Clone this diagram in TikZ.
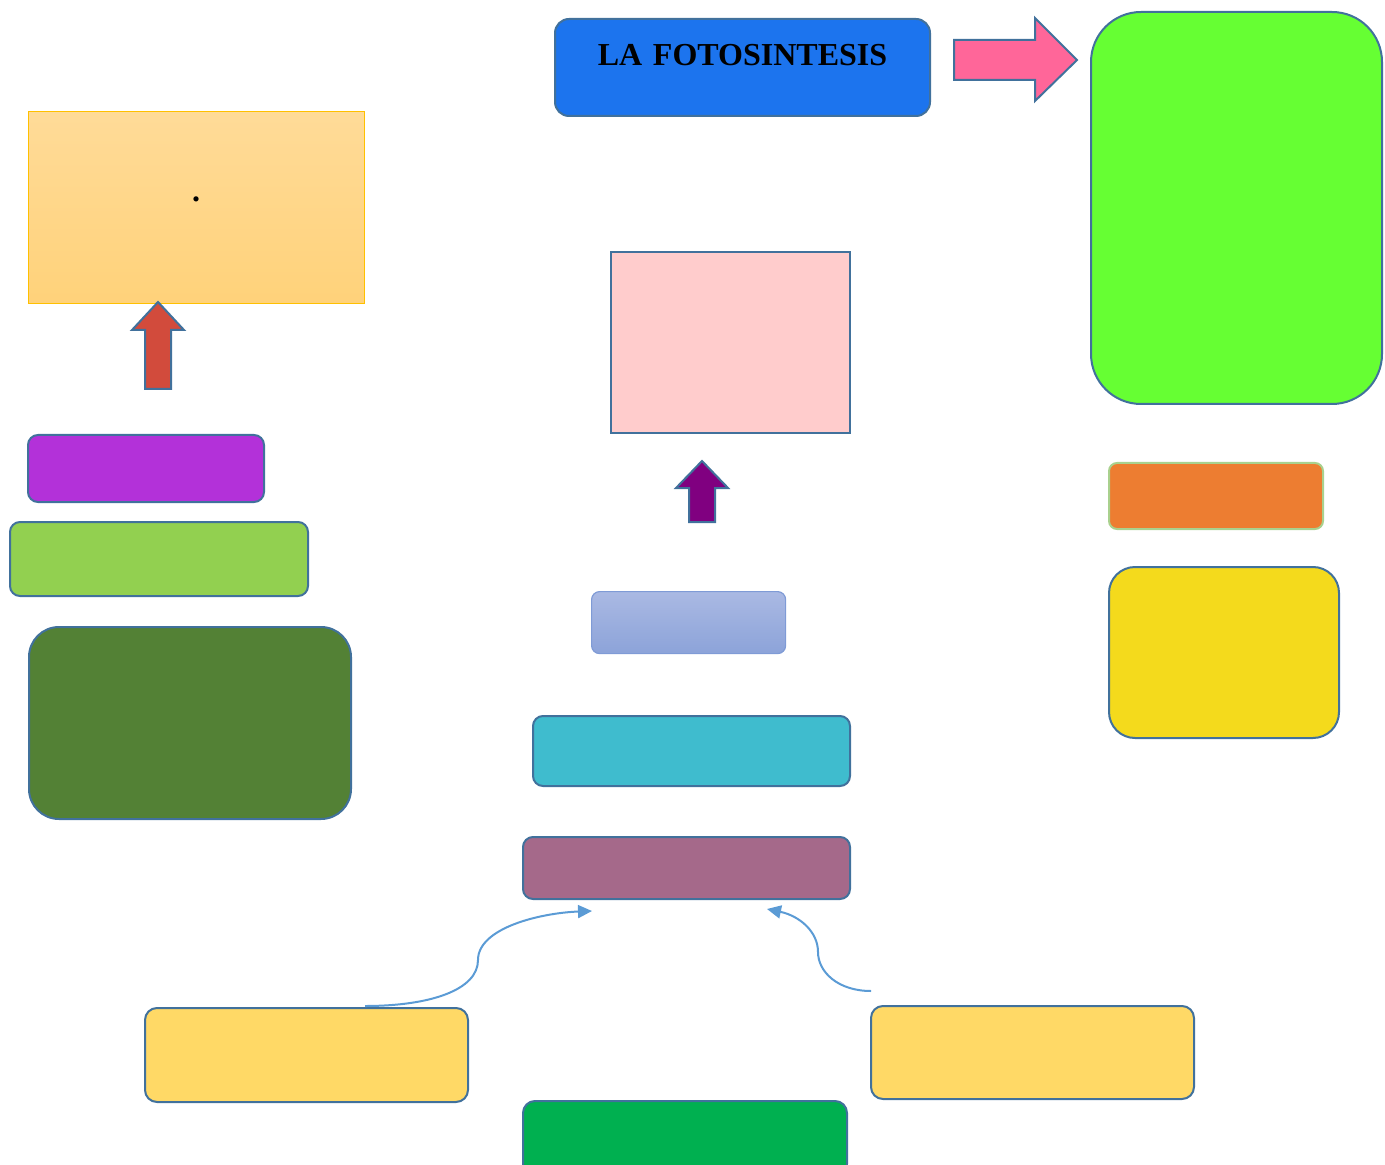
\documentclass[tikz,border=0pt]{standalone}
\usepackage{fontspec}
\setmainfont{Liberation Serif}
\usetikzlibrary{arrows.meta}

\definecolor{edgeblue}{HTML}{41719C}
\definecolor{titleblue}{HTML}{1C74EE}
\definecolor{arrowpink}{HTML}{FF6699}
\definecolor{limegreen}{HTML}{66FF33}
\definecolor{sandtop}{HTML}{FFDB98}
\definecolor{sandbot}{HTML}{FFD27A}
\definecolor{sandedge}{HTML}{FFC000}
\definecolor{brickred}{HTML}{D24B3C}
\definecolor{blushpink}{HTML}{FFCCCC}
\definecolor{plum}{HTML}{800080}
\definecolor{violet}{HTML}{B331D9}
\definecolor{leafgreen}{HTML}{92D050}
\definecolor{forest}{HTML}{538135}
\definecolor{periwinktop}{HTML}{AAB9E3}
\definecolor{periwinkbot}{HTML}{8CA3D9}
\definecolor{periwinkedge}{HTML}{7F9BD6}
\definecolor{teal}{HTML}{3FBCCE}
\definecolor{mauve}{HTML}{A5698A}
\definecolor{tangerine}{HTML}{ED7D31}
\definecolor{paleleaf}{HTML}{A9D18E}
\definecolor{sunyellow}{HTML}{F4DA1C}
\definecolor{butter}{HTML}{FFD966}
\definecolor{emerald}{HTML}{00B050}
\definecolor{linkblue}{HTML}{5B9BD5}

\tikzset{
  card/.style={draw=edgeblue, line width=1pt, anchor=north west, inner sep=0pt},
  blockarrow/.style={draw=edgeblue, line width=1pt, line join=miter},
  link/.style={draw=linkblue, line width=1pt,
    -{Triangle[length=7pt,width=6.5pt]}},
}

\begin{document}
\begin{tikzpicture}[x=0.5pt, y=-0.5pt]
\useasboundingbox (0,0) rectangle (1385,1165);

% title
\node[card, fill=titleblue, rounded corners=7pt, minimum width=187.5pt,
      text width=187.5pt, align=center, text height=23.5pt, text depth=25pt,
      font=\fontsize{16}{19}\selectfont\bfseries]
      (title) at (554,18) {LA FOTOSINTESIS};

% pink block arrow towards the green panel
\path[blockarrow, fill=arrowpink]
  (954,40) -- (1035,40) -- (1035,18) -- (1077,60) -- (1035,101) -- (1035,80) -- (954,80) -- cycle;

% right column
\node[card, fill=limegreen, rounded corners=25pt, minimum width=145.5pt, minimum height=196pt]
  (panel) at (1090,11) {};
\node[card, draw=paleleaf, fill=tangerine, rounded corners=4pt, minimum width=107pt, minimum height=33pt]
  (orange) at (1108,462) {};
\node[card, fill=sunyellow, rounded corners=13pt, minimum width=115pt, minimum height=85.5pt]
  (yellow) at (1108,566) {};

% left column
\node[card, draw=sandedge, line width=0.6pt, top color=sandtop, bottom color=sandbot,
      minimum width=168pt, minimum height=96pt]
  (sand) at (28,111) {};
\node[inner sep=0pt, font=\fontsize{16}{16}\selectfont\bfseries] (dot) at (196,199) {.};
\path[blockarrow, fill=brickred]
  (145,389) -- (145,330) -- (132,330) -- (158,302) -- (184,330) -- (171,330) -- (171,389) -- cycle;
\node[card, fill=violet, rounded corners=5pt, minimum width=118pt, minimum height=33.5pt]
  (violetbox) at (27,434) {};
\node[card, fill=leafgreen, rounded corners=5pt, minimum width=149pt, minimum height=37pt]
  (leafbox) at (9,521) {};
\node[card, fill=forest, rounded corners=15pt, minimum width=161pt, minimum height=96pt]
  (forestbox) at (28,626) {};

% middle column
\node[card, fill=blushpink, minimum width=119.5pt, minimum height=90.5pt]
  (blush) at (610,251) {};
\path[blockarrow, fill=plum]
  (689,522) -- (689,488) -- (676,488) -- (702,461) -- (728,488) -- (715,488) -- (715,522) -- cycle;
\node[card, draw=periwinkedge, line width=0.6pt, top color=periwinktop, bottom color=periwinkbot,
      rounded corners=4pt, minimum width=97pt, minimum height=31pt]
  (periwink) at (591,591) {};
\node[card, fill=teal, rounded corners=5pt, minimum width=158.5pt, minimum height=35pt]
  (tealbox) at (532,715) {};
\node[card, fill=mauve, rounded corners=5pt, minimum width=163.5pt, minimum height=31pt]
  (mauvebox) at (522,836) {};

% bottom row
\node[card, fill=butter, rounded corners=6pt, minimum width=161.5pt, minimum height=47pt]
  (leftbutter) at (144,1007) {};
\node[card, fill=butter, rounded corners=6pt, minimum width=161.5pt, minimum height=46.5pt]
  (rightbutter) at (870,1005) {};
\node[card, fill=emerald, rounded corners=6pt, minimum width=162pt, minimum height=37.5pt]
  (emeraldbox) at (522,1100) {};

% curved links into the mauve box
\coordinate (lstart) at (365,1006);
\coordinate (lbend) at (478,960);
\coordinate (ltip) at (592,911);
\coordinate (rstart) at (871,991);
\coordinate (rbend) at (818,952);
\coordinate (rtip) at (767,909);
\draw[link] (lstart) .. controls (430,1006) and (478,990) .. (lbend)
  .. controls (478,928) and (540,913) .. (ltip);
\draw[link] (rstart) .. controls (838,991) and (818,972) .. (rbend)
  .. controls (818,932) and (800,916) .. (rtip);
\end{tikzpicture}
\end{document}
